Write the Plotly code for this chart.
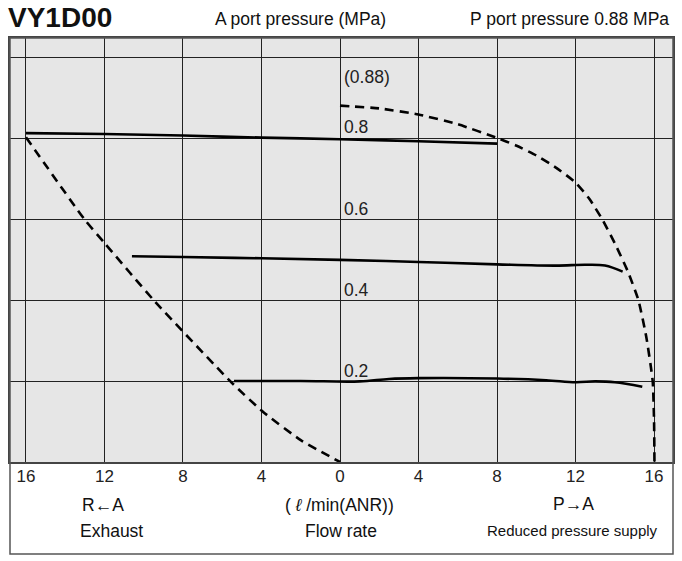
import plotly.graph_objects as go

# ---- data (flow rate in l/min(ANR); negative = exhaust side R<-A) ----
tick_vals = [-16, -12, -8, -4, 0, 4, 8, 12, 16]
tick_text = ["16", "12", "8", "4", "0", "4", "8", "12", "16"]

line08_x = [-16, -12, -8, -4, 0, 4, 8]
line08_y = [0.812, 0.810, 0.806, 0.801, 0.797, 0.792, 0.786]

line05_x = [-10.6, -8, -4, 0, 4, 8, 11, 12.5, 13.5, 14.4]
line05_y = [0.508, 0.506, 0.503, 0.499, 0.494, 0.488, 0.485, 0.487, 0.485, 0.470]

line02_x = [-5.4, -2, 1.0, 2.5, 4, 8, 10.5, 12, 13, 14, 15.4]
line02_y = [0.200, 0.200, 0.199, 0.205, 0.207, 0.206, 0.202, 0.197, 0.199, 0.197, 0.186]

exhaust_x = [-16, -13.0, -12, -9.5, -5.5, -3.9, -2.0, 0]
exhaust_y = [0.802, 0.598, 0.541, 0.400, 0.195, 0.123, 0.054, 0.0]

supply_x = [0, 2, 4, 6, 8, 9, 10, 11, 12, 12.7, 13.35, 14.0, 14.67, 15.2, 15.6, 15.93, 16.0, 16.02]
supply_y = [0.88, 0.873, 0.858, 0.834, 0.80, 0.781, 0.757, 0.727, 0.690, 0.650, 0.600, 0.540, 0.470, 0.400, 0.310, 0.200, 0.100, 0.0]

curve_labels = ["(0.88)", "0.8", "0.6", "0.4", "0.2"]
curve_label_y = [0.95, 0.827, 0.625, 0.425, 0.225]

FONT = "Liberation Sans, Arial, sans-serif"

fig = go.Figure()
for xs, ys in [(line08_x, line08_y), (line05_x, line05_y), (line02_x, line02_y)]:
    fig.add_trace(go.Scatter(x=xs, y=ys, mode="lines", line=dict(color="black", width=2.6, shape="spline"),
                             hoverinfo="skip", showlegend=False))
for xs, ys in [(exhaust_x, exhaust_y), (supply_x, supply_y)]:
    fig.add_trace(go.Scatter(x=xs, y=ys, mode="lines",
                             line=dict(color="black", width=2.6, dash="9px,6px", shape="spline", smoothing=0.5),
                             hoverinfo="skip", showlegend=False))

# pixel geometry helpers
L, R, T, B = 10, 675, 38, 462
def px(xp):
    return (xp - L) / (R - L)
def py(yp):
    return (B - yp) / (B - T)

ann = []
for t, yv in zip(curve_labels, curve_label_y):
    ann.append(dict(x=0.12, y=yv, xref="x", yref="y", text=t, showarrow=False, xanchor="left",
                    yanchor="middle", font=dict(family=FONT, size=17.5, color="#222")))

outer = [
    ("<b>VY1D00</b>", 6, 18, "left", 28),
    ("A port pressure (MPa)", 301, 19, "center", 17.5),
    ("P port pressure 0.88 MPa", 673, 19, "right", 17.5),
    ("R\u2190A", 103, 505, "center", 17.5),
    ("Exhaust", 112, 531, "center", 17.5),
    ("( <i>\u2113</i> /min(ANR))", 340, 505, "center", 17.5),
    ("Flow rate", 342, 531, "center", 17.5),
    ("P\u2192A", 575, 504, "center", 17.5),
    ("Reduced pressure supply", 574, 530, "center", 15),
]
for t, xp, yp, anc, sz in outer:
    ann.append(dict(x=px(xp), y=py(yp), xref="paper", yref="paper", text=t, showarrow=False,
                    xanchor=anc, yanchor="middle", font=dict(family=FONT, size=sz, color="#111")))

# frame around whole chart (including white label area)
shapes = [dict(type="rect", xref="paper", yref="paper", x0=0, x1=1, y0=py(554), y1=1,
               line=dict(color="#555", width=1.5), fillcolor="rgba(0,0,0,0)", layer="above")]

x_per = (656 - 26) / 32.0
x0 = (L - 341) / x_per
x1 = (R - 341) / x_per
y_per = 405.0

fig.update_layout(
    width=682, height=561,
    margin=dict(l=L, r=682 - R, t=T, b=561 - B),
    paper_bgcolor="white", plot_bgcolor="#e6e6e6",
    annotations=ann, shapes=shapes,
    xaxis=dict(range=[x0, x1], tickvals=tick_vals, ticktext=tick_text, showgrid=True,
               gridcolor="#222", gridwidth=1.4, zeroline=False, showline=True, linecolor="#444",
               linewidth=1.5, mirror=True, ticks="", tickfont=dict(family=FONT, size=17, color="#222"),
               ticklabelstandoff=-2, fixedrange=True),
    yaxis=dict(range=[0, (B - T) / y_per], tickvals=[0.2, 0.4, 0.6, 0.8, 1.0], showticklabels=False,
               showgrid=True, gridcolor="#222", gridwidth=1.4, zeroline=False, showline=True,
               linecolor="#444", linewidth=1.5, mirror=True, ticks="", fixedrange=True),
)

fig.write_html("out.html")
